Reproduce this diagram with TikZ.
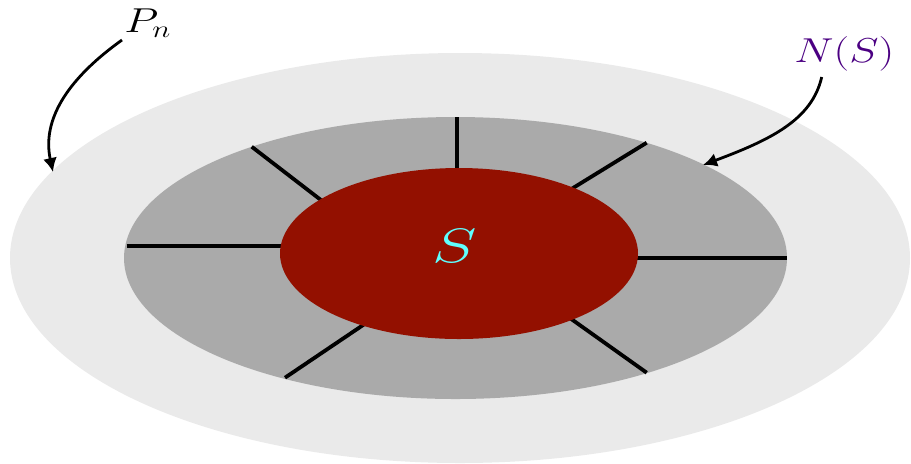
\documentclass[tikz,border=0pt]{standalone}
\usetikzlibrary{arrows.meta}
\definecolor{outerg}{RGB}{234,234,234}
\definecolor{midg}{RGB}{170,170,170}
\definecolor{sred}{RGB}{147,16,0}
\definecolor{scyan}{RGB}{95,255,255}
\definecolor{nspurple}{RGB}{75,0,130}
\begin{document}
\begin{tikzpicture}[x=0.5pt,y=-0.5pt,
  spoke/.style={line width=1.9pt},
  pointer/.style={line width=1.4pt,-{Latex[length=7pt,width=7pt]}},
  lbl/.style={inner sep=0pt,font=\LARGE}]
\useasboundingbox (0,0) rectangle (911,463);
\clip (0,0) rectangle (911,463);
% regions
\fill[outerg] (460,258) ellipse [x radius=225pt, y radius=102.5pt];
\fill[midg] (455.5,258) ellipse [x radius=165.75pt, y radius=70.5pt];
% spokes
\draw[spoke] (456.7,117) -- (456.7,180);
\draw[spoke] (646.7,142.7) -- (560,196);
\draw[spoke] (787,258.3) -- (625,258.3);
\draw[spoke] (646.7,372.7) -- (560,311);
\draw[spoke] (285,377.7) -- (375,317);
\draw[spoke] (126.7,245.7) -- (295,245.7);
\draw[spoke] (251.7,146.7) -- (330,207);
% S
\fill[sred] (459,253.5) ellipse [x radius=89.5pt, y radius=42.75pt];
\node[anchor=base,inner sep=0pt,text=scyan,font=\Huge] (s) at (455,262.5) {\scalebox{1.35}[0.97]{$S$}};
% labels
\node[lbl,anchor=base west] (pn) at (124,32) {\scalebox{1.28}[1]{$P_n$}};
\node[lbl,anchor=base west,text=nspurple] (ns) at (794,62) {\scalebox{1.28}[1]{$N(S)$}};
\coordinate (pnstart) at (122,40);
\coordinate (pnend) at (53,172);
\coordinate (nsstart) at (821.7,77);
\coordinate (nsend) at (703,165);
\draw[pointer] (pnstart) .. controls (80,70) and (40,112) .. (pnend);
\draw[pointer] (nsstart) .. controls (812,120) and (770,140) .. (nsend);
\end{tikzpicture}
\end{document}
